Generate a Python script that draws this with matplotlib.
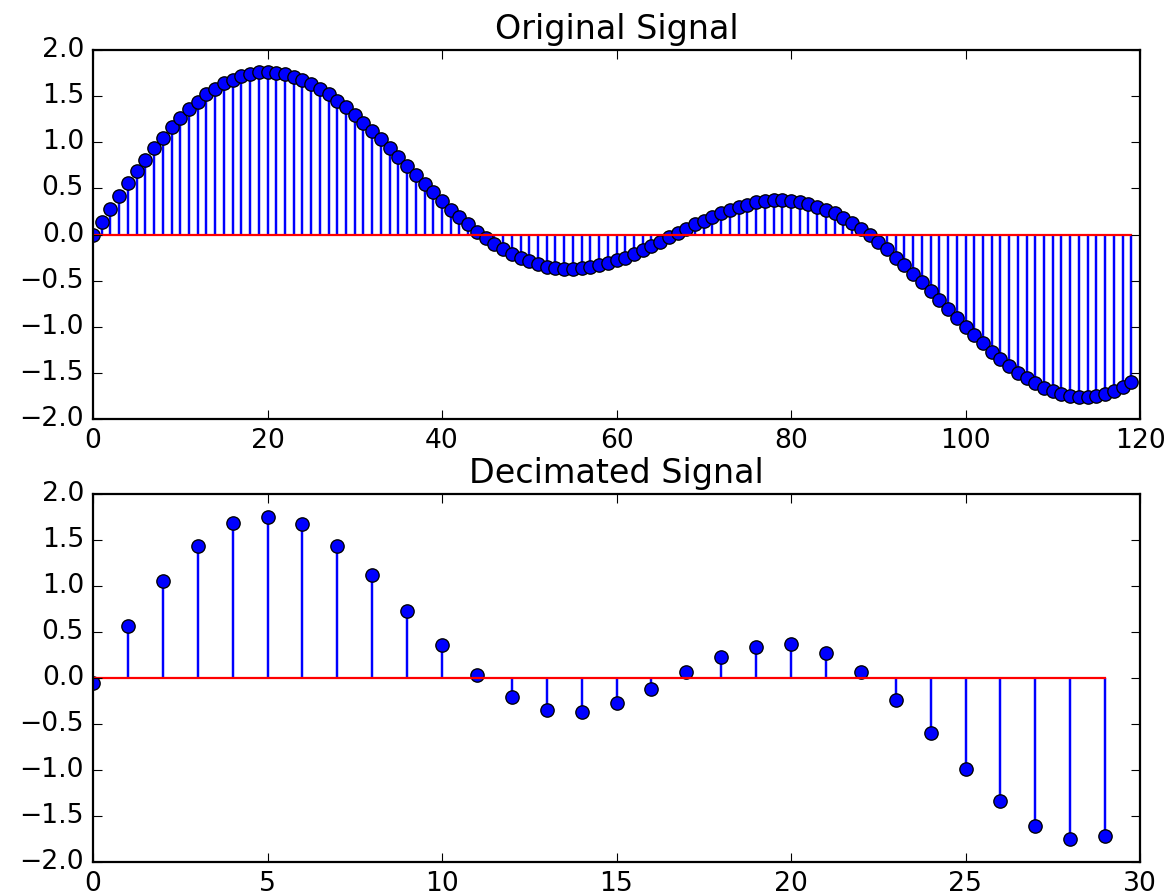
import matplotlib
matplotlib.use("Agg")
import matplotlib.pyplot as plt

plt.style.use("classic")

original_signal = [
    0.00, 0.14, 0.28, 0.42, 0.56, 0.69, 0.81, 0.94, 1.05, 1.16,
    1.26, 1.36, 1.44, 1.52, 1.58, 1.64, 1.68, 1.72, 1.74, 1.76,
    1.76, 1.75, 1.74, 1.71, 1.68, 1.63, 1.58, 1.52, 1.45, 1.38,
    1.30, 1.21, 1.12, 1.03, 0.94, 0.84, 0.74, 0.65, 0.55, 0.46,
    0.36, 0.27, 0.19, 0.11, 0.03, -0.04, -0.10, -0.16, -0.21, -0.26,
    -0.29, -0.32, -0.35, -0.36, -0.37, -0.37, -0.36, -0.35, -0.33, -0.31,
    -0.28, -0.25, -0.21, -0.17, -0.12, -0.08, -0.03, 0.02, 0.06, 0.11,
    0.15, 0.19, 0.23, 0.27, 0.30, 0.32, 0.35, 0.36, 0.37, 0.37,
    0.36, 0.35, 0.33, 0.30, 0.27, 0.23, 0.18, 0.12, 0.06, -0.01,
    -0.08, -0.16, -0.25, -0.33, -0.43, -0.52, -0.61, -0.71, -0.81, -0.91,
    -1.00, -1.09, -1.18, -1.27, -1.35, -1.43, -1.50, -1.56, -1.61, -1.66,
    -1.70, -1.73, -1.75, -1.76, -1.76, -1.75, -1.73, -1.70, -1.65, -1.60,
]

decimated_signal = [
    -0.05, 0.57, 1.05, 1.44, 1.68, 1.75, 1.67, 1.44, 1.12, 0.73,
    0.36, 0.03, -0.21, -0.35, -0.37, -0.27, -0.12, 0.06, 0.23, 0.34,
    0.37, 0.27, 0.06, -0.24, -0.60, -0.99, -1.34, -1.61, -1.75, -1.72,
]

titles = ["Original Signal", "Decimated Signal"]
x_limits = [(0, 120), (0, 30)]
y_limits = (-2.0, 2.0)

W, H, DPI = 1168, 893, 160
fig = plt.figure(figsize=(W / DPI, H / DPI), dpi=DPI, facecolor="white")

left = 93 / W
width = (1140 - 93) / W
ax1 = fig.add_axes([left, 1 - 419 / H, width, (419 - 50) / H])
ax2 = fig.add_axes([left, 1 - 862 / H, width, (862 - 494) / H])

for ax, data, title, xl in zip([ax1, ax2], [original_signal, decimated_signal], titles, x_limits):
    xs = list(range(len(data)))
    markerline, stemlines, baseline = ax.stem(xs, data, linefmt="b-", markerfmt="bo", basefmt="r-")
    markerline.set_markersize(6)
    markerline.set_markeredgecolor("black")
    markerline.set_markeredgewidth(0.6)
    markerline.set_markerfacecolor("blue")
    stemlines.set_linewidth(1.1)
    baseline.set_linewidth(1.0)
    ax.set_xlim(*xl)
    ax.set_ylim(*y_limits)
    ax.set_title(title, fontsize=15)
    ax.tick_params(labelsize=12)
    ax.set_facecolor("white")

fig.savefig("out.png", dpi=DPI, facecolor="white")
